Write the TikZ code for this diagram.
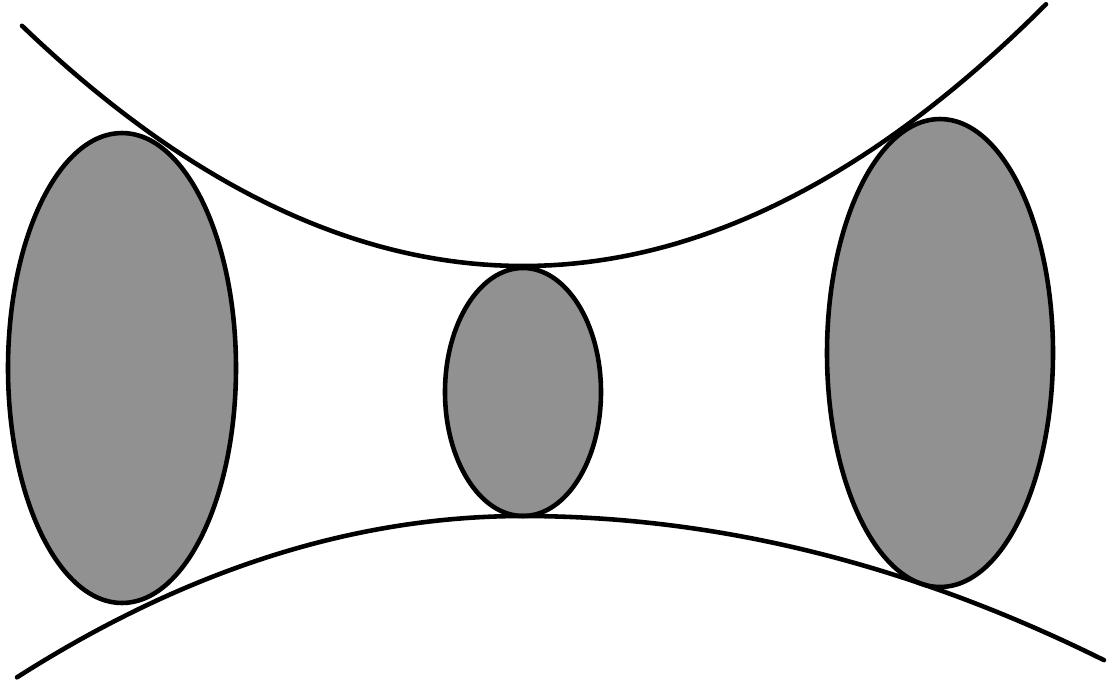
\documentclass[tikz,border=0pt]{standalone}
\usepackage{xcolor}
\usepackage{tikz}
\definecolor{blobgray}{HTML}{919191}

\begin{document}
\begin{tikzpicture}[x={(0.02cm,0)}, y={(0,-0.02cm)},
    blob/.style={draw=black, fill=blobgray, line width=2.6pt},
    wall/.style={draw=black, line width=2.6pt, line cap=round}]
  \useasboundingbox (0,0) rectangle (1112,684);
  % the three bodies
  \path[blob] (122,368) ellipse [x radius=114, y radius=235];
  \path[blob] (523,392) ellipse [x radius=78, y radius=124];
  \path[blob] (940,353) ellipse [x radius=113, y radius=234];
  % upper and lower bounding curves
  \path[wall] plot[domain=22:1046, samples=90]
    (\x, {266-9.57*((\x-523)/100)^2});
  \path[wall] plot[domain=17:523, samples=60]
    (\x, {516+6.3*((\x-523)/100)^2})
    -- plot[domain=523:1104, samples=60]
    (\x, {516+4.27*((\x-523)/100)^2});
\end{tikzpicture}
\end{document}
